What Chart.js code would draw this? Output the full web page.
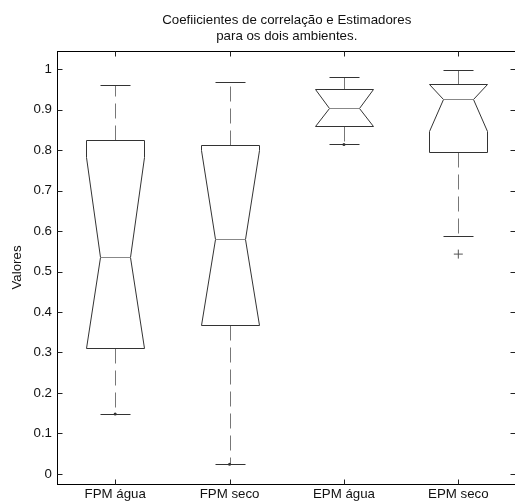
<!DOCTYPE html>
<html>
<head>
<meta charset="utf-8">
<script src="https://cdn.jsdelivr.net/npm/chart.js@4.4.1/dist/chart.umd.min.js"></script>
<style>
  html, body { margin: 0; padding: 0; background: #fff; overflow: hidden; }
</style>
</head>
<body>
<canvas id="boxChart" width="521" height="502"></canvas>
<script>
// categorias e estatísticas
const categories = ['FPM água', 'FPM seco', 'EPM água', 'EPM seco'];
const whiskerLow = [0.148, 0.024, 0.814, 0.587];
const q1 = [0.311, 0.369, 0.860, 0.796];
const median = [0.535, 0.580, 0.904, 0.927];
const q3 = [0.826, 0.813, 0.951, 0.963];
const whiskerHigh = [0.960, 0.967, 0.980, 0.998];
const notchLow = [0.311, 0.369, 0.860, 0.848];
const notchHigh = [0.783, 0.800, 0.951, 0.963];
const outlierX = [4];
const outlierY = [0.543];
const endDotX = [1, 2, 3];
const endDotY = [0.148, 0.024, 0.814];
const yTicks = [0, 0.1, 0.2, 0.3, 0.4, 0.5, 0.6, 0.7, 0.8, 0.9, 1];

const FONT = { family: '"Liberation Sans", Arial, sans-serif', size: 13.3, lineHeight: 1.2 };

// desenha os boxplots com entalhe usando as escalas
const boxPlugin = {
    id: 'notchedBox',
    beforeDatasetsDraw(chart) {
        const { ctx, scales: { x: xs, y: ys } } = chart;
        const py = v => Math.round(ys.getPixelForValue(v)) + 0.5;
        ctx.save();
        ctx.lineWidth = 1;
        categories.forEach((c, i) => {
            const cx = Math.round(xs.getPixelForValue(i + 1)) + 0.5;
            const hw = Math.round(xs.getPixelForValue(i + 1.25) - xs.getPixelForValue(i + 1));
            const nw = Math.round(hw / 2);

            // bigodes tracejados
            ctx.strokeStyle = '#777';
            ctx.setLineDash([15, 7]);
            ctx.beginPath();
            ctx.moveTo(cx, py(q3[i]));
            ctx.lineTo(cx, py(whiskerHigh[i]));
            ctx.moveTo(cx, py(q1[i]));
            ctx.lineTo(cx, py(whiskerLow[i]));
            ctx.stroke();
            ctx.setLineDash([]);

            // extremidades
            ctx.strokeStyle = '#333';
            ctx.beginPath();
            ctx.moveTo(cx - nw, py(whiskerHigh[i]));
            ctx.lineTo(cx + nw, py(whiskerHigh[i]));
            ctx.moveTo(cx - nw, py(whiskerLow[i]));
            ctx.lineTo(cx + nw, py(whiskerLow[i]));
            ctx.stroke();

            // caixa com entalhe
            ctx.fillStyle = '#fff';
            ctx.beginPath();
            ctx.moveTo(cx - hw, py(q1[i]));
            ctx.lineTo(cx - hw, py(notchLow[i]));
            ctx.lineTo(cx - nw, py(median[i]));
            ctx.lineTo(cx - hw, py(notchHigh[i]));
            ctx.lineTo(cx - hw, py(q3[i]));
            ctx.lineTo(cx + hw, py(q3[i]));
            ctx.lineTo(cx + hw, py(notchHigh[i]));
            ctx.lineTo(cx + nw, py(median[i]));
            ctx.lineTo(cx + hw, py(notchLow[i]));
            ctx.lineTo(cx + hw, py(q1[i]));
            ctx.closePath();
            ctx.fill();
            ctx.stroke();

            // mediana
            ctx.strokeStyle = '#888';
            ctx.beginPath();
            ctx.moveTo(cx - nw, py(median[i]));
            ctx.lineTo(cx + nw, py(median[i]));
            ctx.stroke();
        });
        ctx.restore();
    },
    afterDraw(chart) {
        const { ctx, chartArea: a, scales: { x: xs, y: ys } } = chart;
        const L = a.left - 0.5, R = Math.round(a.right) - 0.5, T = Math.round(a.top) + 0.5, B = a.bottom + 0.5;
        const tl = 5;
        ctx.save();
        ctx.lineWidth = 1;
        ctx.strokeStyle = '#000';
        ctx.strokeRect(L, T, R - L, B - T);
        ctx.strokeStyle = '#222';
        ctx.beginPath();
        xs.ticks.forEach(t => {
            const px = Math.round(xs.getPixelForValue(t.value)) + 0.5;
            ctx.moveTo(px, B); ctx.lineTo(px, B - tl);
            ctx.moveTo(px, T); ctx.lineTo(px, T + tl);
        });
        ys.ticks.forEach(t => {
            const p = Math.round(ys.getPixelForValue(t.value)) + 0.5;
            ctx.moveTo(L, p); ctx.lineTo(L + tl, p);
            ctx.moveTo(R, p); ctx.lineTo(R - tl, p);
        });
        ctx.stroke();
        ctx.restore();
    }
};

const ctx = document.getElementById('boxChart').getContext('2d');
new Chart(ctx, {
    type: 'scatter',
    data: {
        datasets: [{
            label: 'outliers',
            data: outlierX.map((x, i) => ({ x, y: outlierY[i] })),
            pointStyle: 'cross',
            pointRadius: 4.5,
            borderColor: '#555',
            borderWidth: 1
        }, {
            label: 'pontos',
            data: endDotX.map((x, i) => ({ x, y: endDotY[i] })),
            pointStyle: 'circle',
            pointRadius: 1.5,
            backgroundColor: '#333',
            borderColor: '#333',
            borderWidth: 0
        }]
    },
    options: {
        responsive: false,
        animation: false,
        devicePixelRatio: 1,
        layout: { padding: { left: 0, right: 0, top: 0, bottom: 0 } },
        plugins: {
            legend: { display: false },
            tooltip: { enabled: false },
            title: {
                display: true,
                fullSize: false,
                text: ['Coefiicientes de correlação e Estimadores', 'para os dois ambientes.'],
                color: '#111',
                font: { ...FONT, lineHeight: 1.2, weight: 'normal' },
                padding: { top: 12, bottom: 7 }
            }
        },
        scales: {
            x: {
                type: 'linear',
                min: 0.5,
                max: 4.5,
                grid: { display: false, drawTicks: false },
                border: { display: false },
                afterBuildTicks: s => { s.ticks = categories.map((c, i) => ({ value: i + 1 })); },
                afterFit: s => { s.height = 18; },
                ticks: {
                    color: '#111',
                    font: FONT,
                    padding: 2,
                    maxRotation: 0,
                    autoSkip: false,
                    callback: v => categories[v - 1]
                }
            },
            y: {
                min: -0.025,
                max: 1.045,
                grid: { display: false, drawTicks: false },
                border: { display: false },
                afterBuildTicks: s => { s.ticks = yTicks.map(v => ({ value: v })); },
                afterFit: s => { s.width = 58; },
                ticks: {
                    color: '#111',
                    font: FONT,
                    padding: 6,
                    autoSkip: false,
                    callback: v => String(Math.round(v * 10) / 10)
                },
                title: {
                    display: true,
                    text: 'Valores',
                    color: '#111',
                    font: FONT,
                    padding: { top: 9, bottom: 0 }
                }
            }
        }
    },
    plugins: [boxPlugin]
});
</script>
</body>
</html>
